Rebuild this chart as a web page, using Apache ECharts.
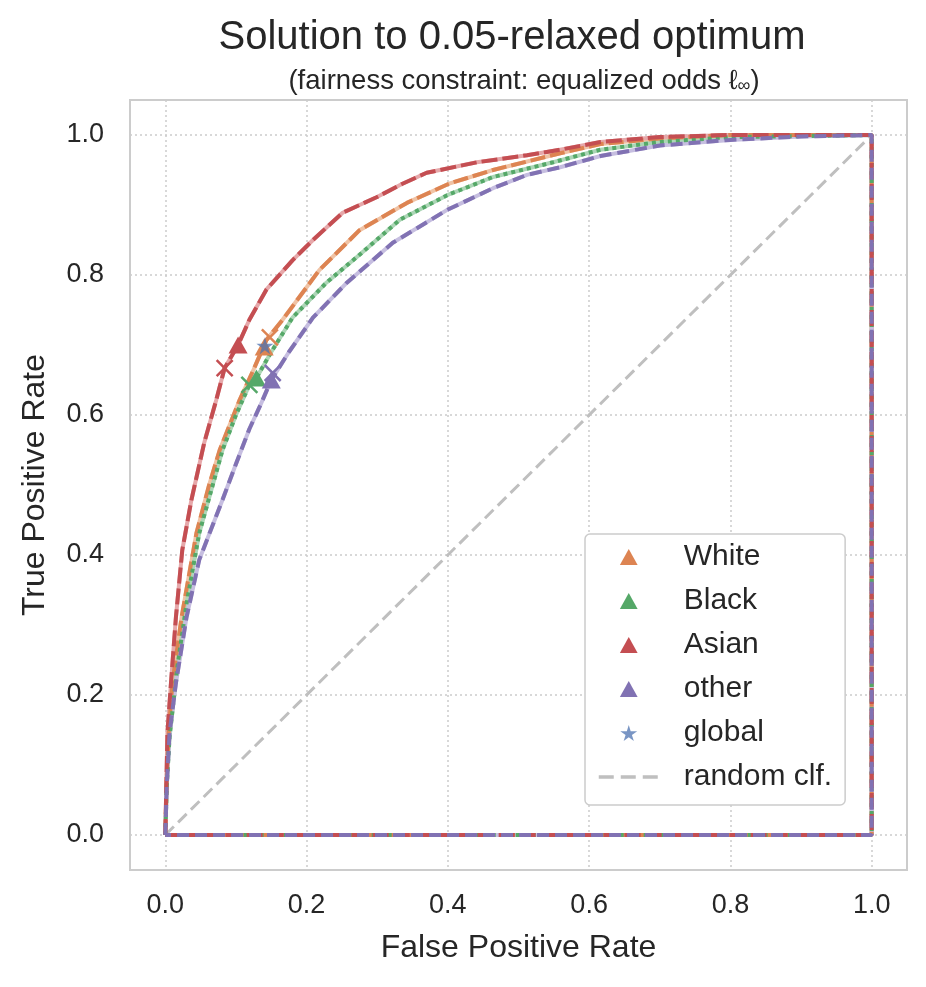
<!DOCTYPE html>
<html>
<head>
<meta charset="utf-8">
<script src="https://cdn.jsdelivr.net/npm/echarts@6.0.0/dist/echarts.min.js"></script>
<style>
html,body{margin:0;padding:0;background:#fff;}
#chart{width:926px;height:987px;}
</style>
</head>
<body>
<div id="chart"></div>
<script>
// ---- data (FPR, TPR) ----
const tickValues = [0, 0.2, 0.4, 0.6, 0.8, 1.0];

const rocWhite = [[0,0],[0.002,0.08],[0.005,0.15],[0.010,0.217],[0.023,0.311],[0.044,0.431],[0.062,0.50],[0.077,0.55],[0.105,0.621],[0.125,0.665],[0.143,0.707],[0.166,0.736],[0.218,0.807],[0.275,0.864],[0.342,0.903],[0.403,0.931],[0.464,0.950],[0.559,0.974],[0.616,0.987],[0.70,0.995],[0.80,1.0],[1,1],[1,0],[0,0]];
const rocBlack = [[0,0],[0.002,0.07],[0.006,0.14],[0.017,0.24],[0.030,0.33],[0.048,0.431],[0.081,0.55],[0.100,0.60],[0.119,0.643],[0.129,0.653],[0.150,0.69],[0.180,0.739],[0.228,0.789],[0.275,0.829],[0.332,0.879],[0.399,0.914],[0.464,0.940],[0.549,0.961],[0.616,0.979],[0.70,0.99],[0.80,0.997],[1,1],[1,0],[0,0]];
const rocAsian = [[0,0],[0.001,0.05],[0.003,0.146],[0.008,0.217],[0.015,0.311],[0.024,0.407],[0.037,0.479],[0.055,0.56],[0.072,0.621],[0.084,0.667],[0.103,0.700],[0.119,0.736],[0.143,0.779],[0.180,0.821],[0.209,0.850],[0.251,0.889],[0.299,0.911],[0.335,0.930],[0.370,0.946],[0.441,0.961],[0.512,0.971],[0.559,0.979],[0.616,0.990],[0.70,0.997],[0.80,1.0],[1,1],[1,0],[0,0]];
const rocOther = [[0,0],[0.002,0.07],[0.006,0.146],[0.015,0.217],[0.030,0.311],[0.048,0.393],[0.081,0.479],[0.100,0.53],[0.119,0.58],[0.135,0.615],[0.150,0.650],[0.175,0.69],[0.209,0.739],[0.257,0.789],[0.322,0.846],[0.399,0.893],[0.464,0.924],[0.512,0.943],[0.559,0.954],[0.616,0.970],[0.70,0.985],[0.80,0.993],[0.90,0.998],[1,1],[1,0],[0,0]];

const groupNames = ['White', 'Black', 'Asian', 'other'];
const groupPoints = [[0.140,0.697],[0.129,0.653],[0.103,0.700],[0.150,0.650]];
const crossPoints = [[0.148,0.711],[0.119,0.643],[0.084,0.667],[0.152,0.660]];
const globalPoint = [[0.141,0.699]];
const randomLine = [[0,0],[1,1]];

// ---- styles ----
const dark = ['#DD8452','#55A868','#C44E52','#8172B3'];
const light = ['#f0c3a5','#acd6b6','#e6a8aa','#c6bee0'];
const dashes = [[15,5],[4,4],[16,5],[12,6]];
const rocs = [rocWhite, rocBlack, rocAsian, rocOther];
const TRI = 'path://M5,0L10,9L0,9Z';
const STAR = 'path://M50,0L61,35L98,35L68,57L79,91L50,70L21,91L32,57L2,35L39,35Z';

const FONT = 'Liberation Sans, Arial, sans-serif';
const TXT = '#262626';

const series = [];
series.push({
  name: 'random clf.', type: 'line', data: randomLine, symbol: 'none',
  itemStyle: {color: 'rgba(0,0,0,0)'},
  lineStyle: {color: '#bfbfbf', width: 3, type: [12,6]}, z: 2, silent: true
});
rocs.forEach((d, i) => {
  series.push({
    name: groupNames[i] + ' hull', type: 'line', data: d, symbol: 'none', clip: false,
    lineStyle: {color: light[i], width: 4}, z: 3, silent: true
  });
  series.push({
    name: groupNames[i] + ' roc', type: 'line', data: d, symbol: 'none', clip: false,
    lineStyle: {color: dark[i], width: 4, type: dashes[i], cap: 'butt'}, z: 4, silent: true
  });
});
crossPoints.forEach((p, i) => {
  series.push({
    name: groupNames[i] + ' x', type: 'scatter', data: [p],
    symbol: 'path://M0,0L10,10M10,0L0,10', symbolSize: 16,
    itemStyle: {color: 'none', borderColor: dark[i], borderWidth: 2.5, opacity: 1}, z: 5
  });
});
groupPoints.forEach((p, i) => {
  series.push({
    name: groupNames[i], type: 'scatter', data: [p],
    symbol: TRI, symbolSize: [19, 17],
    itemStyle: {color: dark[i], opacity: 1}, z: 6
  });
});
series.push({
  name: 'global', type: 'scatter', data: globalPoint,
  symbol: STAR, symbolSize: 17,
  itemStyle: {color: '#4C72B0', opacity: 0.75}, z: 7
});

const axisCommon = {
  type: 'value', min: -0.05, max: 1.05,
  axisLine: {show: false},
  axisTick: {show: false, customValues: tickValues},
  splitLine: {show: true, lineStyle: {color: '#cccccc', width: 1.5, type: [2,3]}},
  axisLabel: {customValues: tickValues, color: TXT, fontSize: 27, fontFamily: FONT,
    formatter: v => v.toFixed(1)},
  nameLocation: 'middle',
  nameTextStyle: {color: TXT, fontSize: 32, fontFamily: FONT}
};

const option = {
  backgroundColor: '#ffffff',
  animation: false,
  title: [
    {text: 'Solution to 0.05-relaxed optimum', left: 507, top: 13, textAlign: 'center',
     textStyle: {fontSize: 40, fontWeight: 'normal', color: TXT, fontFamily: FONT}},
    {text: '(fairness constraint: equalized odds ℓ{s|∞})', left: 519, top: 62, textAlign: 'center',
     textStyle: {fontSize: 27.5, fontWeight: 'normal', color: TXT, fontFamily: FONT,
       rich: {s: {fontSize: 18, color: TXT, fontFamily: FONT, padding: [10,0,0,0]}}}}
  ],
  grid: {left: 130, top: 100, width: 777, height: 770, show: true,
         borderColor: '#cccccc', borderWidth: 2, backgroundColor: 'transparent'},
  xAxis: Object.assign({}, axisCommon, {name: 'False Positive Rate', nameGap: 62,
    axisLabel: Object.assign({}, axisCommon.axisLabel, {margin: 22})}),
  yAxis: Object.assign({}, axisCommon, {name: 'True Positive Rate', nameGap: 79,
    axisLabel: Object.assign({}, axisCommon.axisLabel, {margin: 26})}),
  legend: {
    orient: 'vertical', left: 585, top: 534,
    data: [
      {name: 'White', icon: TRI},
      {name: 'Black', icon: TRI},
      {name: 'Asian', icon: TRI},
      {name: 'other', icon: TRI},
      {name: 'global', icon: STAR},
      {name: 'random clf.', lineStyle: {width: 3.5, type: [15,7], color: '#bfbfbf'}}
    ],
    itemWidth: 60, itemHeight: 16, itemGap: 14,
    symbolKeepAspect: true,
    padding: [8, 13, 13, 12],
    backgroundColor: '#ffffff', borderColor: '#cccccc', borderWidth: 1.5, borderRadius: 5,
    textStyle: {color: TXT, fontSize: 30, fontFamily: FONT, lineHeight: 30, padding: [0,0,0,20]},
    selectedMode: false
  },
  series: series
};

const chart = echarts.init(document.getElementById('chart'), null, {renderer: 'canvas'});
chart.setOption(option);
</script>
</body>
</html>
